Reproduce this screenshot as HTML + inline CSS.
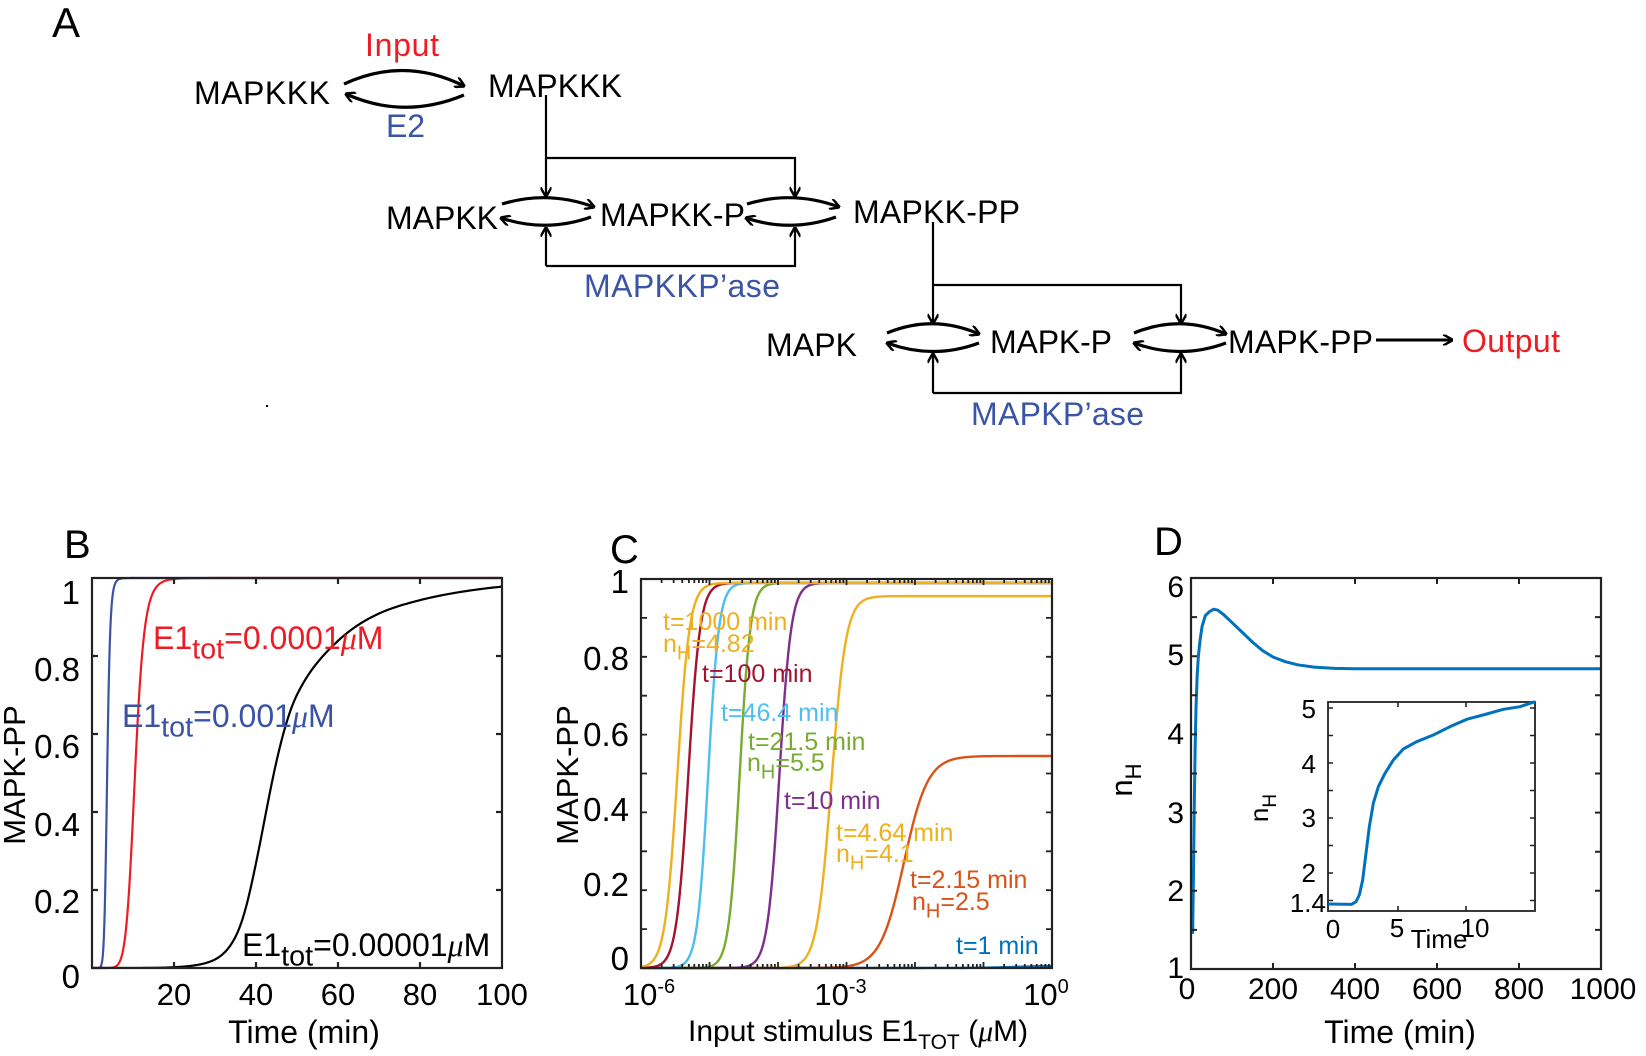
<!DOCTYPE html>
<html><head><meta charset="utf-8"><style>
html,body{margin:0;padding:0;background:#fff;}
svg{display:block;font-family:"Liberation Sans",Arial,sans-serif;}
</style></head><body>
<svg id="s" width="1646" height="1056" viewBox="0 0 1646 1056" xmlns="http://www.w3.org/2000/svg">
<defs>
<marker id="ah2" viewBox="0 0 10 10" refX="9" refY="5" markerWidth="11" markerHeight="11" orient="auto" markerUnits="userSpaceOnUse">
<path d="M1,0 L10,5 L1,10" fill="none" stroke="#000" stroke-width="2.2"/></marker>
</defs>
<g id="A" font-size="32">
<text x="52" y="37" font-size="42">A</text>
<text x="365" y="56" fill="#ED1C24" textLength="74">Input</text>
<text x="194" y="104" textLength="136">MAPKKK</text>
<text x="488" y="97" textLength="134">MAPKKK</text>
<text x="386" y="137" fill="#3B55A6" textLength="39">E2</text>
<text x="386" y="229" textLength="112">MAPKK</text>
<text x="600" y="226" textLength="145">MAPKK-P</text>
<text x="853" y="223" textLength="167">MAPKK-PP</text>
<text x="584" y="297" fill="#3B55A6" textLength="196">MAPKKP’ase</text>
<text x="766" y="356" textLength="91">MAPK</text>
<text x="990" y="353" textLength="122">MAPK-P</text>
<text x="1228" y="353" textLength="145">MAPK-PP</text>
<text x="1462" y="352" fill="#ED1C24" textLength="98">Output</text>
<text x="971" y="425" fill="#3B55A6" textLength="173">MAPKP’ase</text>
<rect x="266" y="405" width="2" height="2" fill="#000"/>
<g fill="none" stroke="#000" stroke-width="3.2">
<path d="M344,84 Q404,56 464,86" marker-end="url(#ah2)"/>
<path d="M464,95 Q404,120 346,94" marker-end="url(#ah2)"/>
<path d="M502,204 Q548,190 594,207" marker-end="url(#ah2)"/>
<path d="M591,217 Q546,233 501,218" marker-end="url(#ah2)"/>
<path d="M747,204 Q793,190 839,207" marker-end="url(#ah2)"/>
<path d="M836,217 Q791,233 746,218" marker-end="url(#ah2)"/>
<path d="M887,333 Q933,314 979,334" marker-end="url(#ah2)"/>
<path d="M979,343 Q933,360 887,343" marker-end="url(#ah2)"/>
<path d="M1134,333 Q1180,314 1226,334" marker-end="url(#ah2)"/>
<path d="M1226,343 Q1180,360 1134,343" marker-end="url(#ah2)"/>
</g>
<g fill="none" stroke="#000" stroke-width="2.2">
<path d="M546,95 V196" marker-end="url(#ah2)"/>
<path d="M546,158 H795 V196" marker-end="url(#ah2)"/>
<path d="M546,266 V228" marker-end="url(#ah2)"/>
<path d="M546,266 H795 V228" marker-end="url(#ah2)"/>
<path d="M933,222 V323" marker-end="url(#ah2)"/>
<path d="M933,285 H1181 V323" marker-end="url(#ah2)"/>
<path d="M933,393 V354" marker-end="url(#ah2)"/>
<path d="M933,393 H1181 V354" marker-end="url(#ah2)"/>
<path d="M1376,340 H1452" stroke-width="3" marker-end="url(#ah2)"/>
</g>
</g>
<g id="plots"></g>
</svg>
<script>
(function(){
var NS="http://www.w3.org/2000/svg",G=document.getElementById("plots");
function el(t,a,txt){var e=document.createElementNS(NS,t);for(var k in a)e.setAttribute(k,a[k]);if(txt!=null)e.textContent=txt;G.appendChild(e);return e;}
function txt(x,y,s,fs,anchor,fill){return el("text",{x:x,y:y,"font-size":fs,"text-anchor":anchor||"start",fill:fill||"#000"},s);}
function pathFrom(pts){return "M"+pts.map(function(p){return p[0].toFixed(2)+","+p[1].toFixed(2);}).join(" L");}
function box(x0,y0,x1,y1){el("rect",{x:x0,y:y0,width:x1-x0,height:y1-y0,fill:"none",stroke:"#222","stroke-width":2.2});}
function hill(x,K,n){var r=Math.pow(x/K,n);return r/(1+r);}
function spline(pts,t){ // Catmull-Rom in x-y data
 if(t<=pts[0][0])return pts[0][1];
 for(var i=1;i<pts.length;i++){if(t<=pts[i][0]){
  var p0=pts[Math.max(i-2,0)],p1=pts[i-1],p2=pts[i],p3=pts[Math.min(i+1,pts.length-1)];
  var h=p2[0]-p1[0],u=(t-p1[0])/h;
  var m1=(p2[1]-p0[1])/(p2[0]-p0[0])*h, m2=(p3[1]-p1[1])/(p3[0]-p1[0])*h;
  var u2=u*u,u3=u2*u;
  return (2*u3-3*u2+1)*p1[1]+(u3-2*u2+u)*m1+(-2*u3+3*u2)*p2[1]+(u3-u2)*m2;}}
 return pts[pts.length-1][1];}
// ---- Panel B ----
var bx0=92,bx1=502,by0=578,by1=968;
function BX(t){return bx0+(t/100)*(bx1-bx0);} function BY(v){return by1-v*(by1-by0);}
txt(64,558,"B",40);
function curveB(f,col){var p=[];for(var t=0;t<=100;t+=0.1){p.push([BX(t),BY(f(t))]);}el("path",{d:pathFrom(p),fill:"none",stroke:col,"stroke-width":2.2});}
curveB(function(t){return hill(t,3.7,10);},"#3A53A4");
curveB(function(t){return hill(t,10.5,9.3);},"#ED1C24");
var bk=[[10,-9],[15,-7.6],[20,-6.2],[25,-5.0],[30,-3.8],[35,-2.44],[40,-1.0],[45,0.12],[50,0.85],[60,1.65],[70,2.3],[80,2.81],[90,3.3],[100,3.79]];
curveB(function(t){return 1/(1+Math.exp(-spline(bk,t)));},"#000");
box(bx0,by0,bx1,by1);
var g="";
[20,40,60,80].forEach(function(t){var x=BX(t);g+="M"+x+","+by1+"v-6M"+x+","+by0+"v6";});
[0.2,0.4,0.6,0.8].forEach(function(v){var y=BY(v);g+="M"+bx0+","+y+"h6M"+bx1+","+y+"h-6";});
el("path",{d:g,stroke:"#222","stroke-width":2.2,fill:"none"});
[["1",604],["0.8",681],["0.6",758],["0.4",836],["0.2",913],["0",988]].forEach(function(a){txt(80,a[1],a[0],33,"end");});
[20,40,60,80,100].forEach(function(t){txt(BX(t),1005,String(t),31,"middle");});
el("text",{x:304,y:1043,"font-size":32,"text-anchor":"middle"},"Time (min)");
el("text",{x:0,y:0,"font-size":31,"text-anchor":"middle",transform:"translate(25,775) rotate(-90)"},"MAPK-PP");
function subLabel(x,y,fs,col,pre,sub,post,sc){sc=sc||0.8;var t=el("text",{x:x,y:y,"font-size":fs,fill:col});var a=document.createElementNS(NS,"tspan");a.textContent=pre;t.appendChild(a);var b=document.createElementNS(NS,"tspan");b.setAttribute("dy",fs*0.3);b.setAttribute("font-size",fs*sc);b.textContent=sub;t.appendChild(b);var c=document.createElementNS(NS,"tspan");c.setAttribute("dy",-fs*0.3);c.textContent=post;t.appendChild(c);return t;}
function muLabel(x,y,fs,col,pre,sub,num){var t=subLabel(x,y,fs,col,pre,sub,num,0.9);var m=document.createElementNS(NS,"tspan");m.setAttribute("font-style","italic");m.setAttribute("font-family","Liberation Serif, serif");m.textContent="\u03bc";t.appendChild(m);var M=document.createElementNS(NS,"tspan");M.textContent="M";t.appendChild(M);return t;}
muLabel(153,649,32,"#ED1C24","E1","tot","=0.0001");
muLabel(122,727,32,"#3A53A4","E1","tot","=0.001");
muLabel(242,956,32,"#000","E1","tot","=0.00001");
// ---- Panel C ----
var cx0=641,cx1=1052,cy0=579,cy1=968;
function CX(l){return cx0+(l+6)/6*(cx1-cx0);} function CY(v){return cy1-v*(cy1-cy0);}
txt(610,563,"C",40);
function curveC(mid,n,mx,col){var p=[];for(var l=-6;l<=0.0001;l+=0.01){var v=mx*hill(Math.pow(10,l),Math.pow(10,mid),n);p.push([CX(l),CY(v)]);}el("path",{d:pathFrom(p),fill:"none",stroke:col,"stroke-width":2.4});}
curveC(-0.5,1.6,0.006,"#0072BD");
curveC(-2.16,2.5,0.545,"#D95319");
curveC(-3.22,4.1,0.956,"#EDB120");
curveC(-3.98,5,0.99,"#7E2F8E");
curveC(-4.56,5.5,0.99,"#77AC30");
curveC(-5.02,5.5,0.99,"#4DBEEE");
curveC(-5.31,5,0.99,"#A2142F");
curveC(-5.47,4.82,0.99,"#EDB120");
box(cx0,cy0,cx1,cy1);
g="";
for(var d=-6;d<0;d++){for(var k=1;k<=9;k++){var l=d+Math.log10(k);var x=CX(l);var len=k==1?6:4;if(d==-6&&k==1)continue;g+="M"+x+","+cy1+"v-"+len+"M"+x+","+cy0+"v"+len;}}
for(var v=1;v<=9;v++){var y=CY(v/10);g+="M"+cx0+","+y+"h6M"+cx1+","+y+"h-6";}
el("path",{d:g,stroke:"#222","stroke-width":1.8,fill:"none"});
[["1",593],["0.8",670],["0.6",746],["0.4",821],["0.2",896],["0",970]].forEach(function(a){txt(629,a[1],a[0],33,"end");});
[[-6,"-6",8],[-3,"-3",-6],[0,"0",-6]].forEach(function(a){var t=el("text",{x:CX(a[0])+a[2],y:1005,"font-size":31,"text-anchor":"middle"},"10");var s=document.createElementNS(NS,"tspan");s.setAttribute("dy",-12);s.setAttribute("font-size",20);s.textContent=a[1];t.appendChild(s);});
(function(){var t=el("text",{x:688,y:1041,"font-size":30},"Input stimulus E1");var s=document.createElementNS(NS,"tspan");s.setAttribute("dy",8);s.setAttribute("font-size",21);s.textContent="TOT";t.appendChild(s);var c=document.createElementNS(NS,"tspan");c.setAttribute("dy",-8);c.textContent=" (";t.appendChild(c);var m=document.createElementNS(NS,"tspan");m.setAttribute("font-style","italic");m.setAttribute("font-family","Liberation Serif, serif");m.textContent="\u03bc";t.appendChild(m);var M=document.createElementNS(NS,"tspan");M.textContent="M)";t.appendChild(M);})();
el("text",{x:0,y:0,"font-size":31,"text-anchor":"middle",transform:"translate(578,775) rotate(-90)"},"MAPK-PP");
var fs=25;
txt(663,630,"t=1000 min",fs,"start","#EDB120");
subLabel(663,652,fs,"#EDB120","n","H","=4.82");
txt(702,682,"t=100 min",fs,"start","#A2142F");
txt(721,721,"t=46.4 min",fs,"start","#4DBEEE");
txt(748,750,"t=21.5 min",fs,"start","#77AC30");
subLabel(747,771,fs,"#77AC30","n","H","=5.5");
txt(784,809,"t=10 min",fs,"start","#7E2F8E");
txt(836,841,"t=4.64 min",fs,"start","#EDB120");
subLabel(836,862,fs,"#EDB120","n","H","=4.1");
txt(910,888,"t=2.15 min",fs,"start","#D95319");
subLabel(912,910,fs,"#D95319","n","H","=2.5");
txt(956,954,"t=1 min",fs,"start","#0072BD");
// ---- Panel D ----
var dx0=1191,dx1=1601,dy0=578,dy1=969;
function DX(t){return dx0+t/1000*(dx1-dx0);} function DY(v){return dy1-(v-1)/5*(dy1-dy0);}
txt(1154,555,"D",40);
var dp=[[4,1.45],[6,2.2],[8,3.1],[10,3.8],[12,4.3],[15,4.75],[18,5.0],[22,5.2],[27,5.38],[35,5.52],[45,5.57],[55,5.6],[65,5.59],[80,5.53],[100,5.43],[120,5.33],[150,5.18],[175,5.07],[200,4.99],[230,4.93],[260,4.89],[300,4.86],[350,4.845],[400,4.84],[1000,4.84]];
el("path",{d:pathFrom(dp.map(function(p){return [DX(p[0]),DY(p[1])];})),fill:"none",stroke:"#0072BD","stroke-width":3,"stroke-linejoin":"round"});
box(dx0,dy0,dx1,dy1);
g="";
[200,400,600,800].forEach(function(t){var x=DX(t);g+="M"+x+","+dy1+"v-6M"+x+","+dy0+"v6";});
for(var v=1.5;v<6;v+=0.5){var y=DY(v);g+="M"+dx0+","+y+"h6M"+dx1+","+y+"h-6";}
el("path",{d:g,stroke:"#222","stroke-width":2,fill:"none"});
[["6",597],["5",665],["4",744],["3",823],["2",901],["1",978]].forEach(function(a){txt(1184,a[1],a[0],30,"end");});
[0,200,400,600,800,1000].forEach(function(t){txt(DX(t)-(t==0?4:(t==1000?-2:0)),999,String(t),30,"middle");});
el("text",{x:1400,y:1043,"font-size":32,"text-anchor":"middle"},"Time (min)");
(function(){var t=el("text",{x:0,y:0,"font-size":31,"text-anchor":"middle",transform:"translate(1132,780) rotate(-90)"},"n");var s=document.createElementNS(NS,"tspan");s.setAttribute("dy",9);s.setAttribute("font-size",22);s.textContent="H";t.appendChild(s);})();
// inset
var ix0=1328,ix1=1535,iy0=702,iy1=911;
el("rect",{x:ix0,y:iy0,width:ix1-ix0,height:iy1-iy0,fill:"#fff",stroke:"#222","stroke-width":1.8});
var ip=[[145,672],[215,673],[228,665],[238,645],[248,600],[258,520],[268,440],[280,370],[295,320],[315,280],[340,240],[370,207],[410,185],[460,165],[510,140],[560,118],[620,102],[670,88],[720,80],[765,65]];
el("path",{d:pathFrom(ip.map(function(p){return [1280+p[0]/3,680+p[1]/3];})),fill:"none",stroke:"#0072BD","stroke-width":3,"stroke-linejoin":"round"});
g="";
[1398,1466].forEach(function(x){g+="M"+x+","+iy1+"v-5M"+x+","+iy0+"v5";});
[708,735.5,763,790.5,818,845.5,873,900.5].forEach(function(y){g+="M"+ix0+","+y+"h5M"+ix1+","+y+"h-5";});
el("path",{d:g,stroke:"#222","stroke-width":1.6,fill:"none"});
[["5",718],["4",773],["3",827],["2",882]].forEach(function(a){txt(1316,a[1],a[0],26,"end");});
txt(1326,912,"1.4",26,"end");
txt(1333,938,"0",26,"middle");txt(1397,937,"5",26,"middle");txt(1475,937,"10",26,"middle");
txt(1439,948,"Time",26,"middle");
(function(){var t=el("text",{x:0,y:0,"font-size":26,"text-anchor":"middle",transform:"translate(1268,808) rotate(-90)"},"n");var s=document.createElementNS(NS,"tspan");s.setAttribute("dy",8);s.setAttribute("font-size",19);s.textContent="H";t.appendChild(s);})();
})();
</script>
</body></html>
